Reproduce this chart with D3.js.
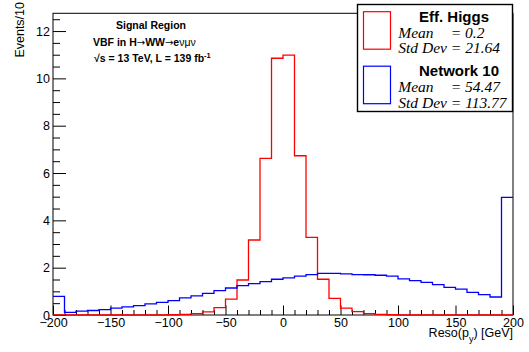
<!DOCTYPE html>
<html>
<head>
<meta charset="utf-8">
<script src="https://cdn.jsdelivr.net/npm/d3@7"></script>
<style>
  html, body { margin: 0; padding: 0; background: #fff; }
  svg { display: block; }
  text { font-family: "Liberation Sans", Arial, sans-serif; }
</style>
</head>
<body>
<svg id="chart" width="529" height="352"></svg>
<script>
// Histogram binning: 40 bins of width 10 GeV over [-200, 200]
const binLow = -200, binHigh = 200, binWidth = 10;

// Bin contents (events per 10 GeV), lowest bin first
const effHiggs = [
  0, 0, 0, 0, 0, 0, 0, 0, 0, 0,
  0.01, 0.03, 0.06, 0.13, 0.31, 0.67, 1.48, 3.17, 6.62, 10.85,
  10.98, 6.73, 3.28, 1.51, 0.70, 0.29, 0.14, 0.06, 0.03, 0.01,
  0, 0, 0, 0, 0, 0, 0, 0, 0, 0
];
const network10 = [
  0.79, 0.11, 0.16, 0.19, 0.23, 0.29, 0.34, 0.40, 0.47, 0.53,
  0.61, 0.72, 0.81, 0.91, 1.03, 1.14, 1.24, 1.33, 1.41, 1.51,
  1.57, 1.64, 1.71, 1.76, 1.76, 1.74, 1.71, 1.70, 1.68, 1.64,
  1.53, 1.45, 1.38, 1.28, 1.17, 1.09, 0.96, 0.86, 0.76, 4.97
];

// Axis ticks and labels
const xMajorTicks = [-200, -150, -100, -50, 0, 50, 100, 150, 200];
const yMajorTicks = [0, 2, 4, 6, 8, 10, 12];
const yMax = 12.75;

// Legend entries
const legendNames = ["Eff. Higgs", "Network 10"];
const legendMeans = ["0.2", "54.47"];
const legendStdDevs = ["21.64", "113.77"];
const seriesColors = ["#ff0000", "#0000ff"];

const svg = d3.select("#chart");
const frameL = 53, frameR = 513, frameT = 13.3, frameB = 315;

const x = d3.scaleLinear().domain([binLow, binHigh]).range([frameL, frameR]);
const y = d3.scaleLinear().domain([0, yMax]).range([frameB, frameT]);

// Minor tick positions derived from the major divisions
const xMinorTicks = d3.range(binLow, binHigh + 0.001, 10).filter(v => !xMajorTicks.includes(v));
const yMinorTicks = d3.range(0, yMax, 0.5).filter(v => !yMajorTicks.includes(v));

// Histogram outlines (ROOT-style step lines)
const edges = d3.range(binLow, binHigh, binWidth);
const step = d3.line()
  .x(d => x(d[0]))
  .y(d => y(d[1]))
  .curve(d3.curveStepAfter);

function stepPoints(values) {
  const pts = edges.map((e, i) => [e, values[i]]);
  pts.push([binHigh, values[values.length - 1]]);
  return pts;
}

// Frame
svg.append("rect")
  .attr("x", frameL).attr("y", frameT)
  .attr("width", frameR - frameL).attr("height", frameB - frameT)
  .attr("fill", "none").attr("stroke", "#000").attr("stroke-width", 1);

// Y axis
const yAxis = svg.append("g").attr("transform", `translate(${frameL},0)`)
  .call(d3.axisLeft(y).tickValues(yMajorTicks).tickSizeInner(-13).tickSizeOuter(0).tickPadding(3));
const yMinor = svg.append("g").attr("transform", `translate(${frameL},0)`)
  .call(d3.axisLeft(y).tickValues(yMinorTicks).tickSizeInner(-7).tickSizeOuter(0).tickFormat(""));

// X axis
const xAxis = svg.append("g").attr("transform", `translate(0,${frameB})`)
  .call(d3.axisBottom(x).tickValues(xMajorTicks).tickSizeInner(-9.5).tickSizeOuter(0).tickPadding(3.4));
const xMinor = svg.append("g").attr("transform", `translate(0,${frameB})`)
  .call(d3.axisBottom(x).tickValues(xMinorTicks).tickSizeInner(-5).tickSizeOuter(0).tickFormat(""));

[yAxis, yMinor, xAxis, xMinor].forEach(g => {
  g.select(".domain").remove();
  g.selectAll("line").attr("stroke", "#000").attr("stroke-width", 1);
  g.selectAll("text").attr("font-size", 12.5).attr("fill", "#000")
    .attr("font-family", "'Liberation Sans', Arial, sans-serif");
});

// Series
[effHiggs, network10].forEach((vals, i) => {
  svg.append("path")
    .attr("d", step(stepPoints(vals)))
    .attr("fill", "none")
    .attr("stroke", seriesColors[i])
    .attr("stroke-width", 1.3);
});

// Axis titles
svg.append("text")
  .attr("transform", "translate(24,2) rotate(-90)")
  .attr("text-anchor", "end")
  .attr("font-size", 12.5)
  .text("Events/10");

const xt = svg.append("text")
  .attr("x", frameR).attr("y", 337.3)
  .attr("text-anchor", "end")
  .attr("font-size", 12.5);
xt.append("tspan").text("Reso(p");
xt.append("tspan").attr("dy", 4.5).attr("font-size", 9).text("y");
xt.append("tspan").attr("dy", -4.5).text(") [GeV]");

// Region label
const info = svg.append("g").attr("font-weight", "bold").attr("font-size", 10.5);
info.append("text").attr("x", 151).attr("y", 29.3).attr("text-anchor", "middle").text("Signal Region");
const l2 = info.append("text").attr("x", 93).attr("y", 46);
const arrowFont = "'DejaVu Sans', sans-serif";
l2.append("tspan").text("VBF in H");
l2.append("tspan").attr("font-weight", "normal").style("font-family", arrowFont).attr("font-size", 10).text("\u2192");
l2.append("tspan").text("WW");
l2.append("tspan").attr("font-weight", "normal").style("font-family", arrowFont).attr("font-size", 10).text("\u2192");
l2.append("tspan").text("e");
l2.append("tspan").attr("font-weight", "normal").text("\u03bd\u03bc\u03bd");
const l3 = info.append("text").attr("x", 94).attr("y", 61.7);
l3.append("tspan").text("\u221as = 13 TeV, L = 139 fb");
l3.append("tspan").attr("dy", -4).attr("font-size", 7.5).text("-1");

// Legend
const leg = svg.append("g");
leg.append("rect")
  .attr("x", 357.5).attr("y", 4.5).attr("width", 155).attr("height", 107)
  .attr("fill", "#fff").attr("stroke", "#000").attr("stroke-width", 1.4);

const entryTop = [0, 54.5];
legendNames.forEach((name, i) => {
  const oy = entryTop[i];
  leg.append("rect")
    .attr("x", 363.5).attr("y", 11.7 + oy).attr("width", 27).attr("height", 37.5)
    .attr("fill", "none").attr("stroke", seriesColors[i]).attr("stroke-width", 1.2);
  leg.append("text")
    .attr("x", 419).attr("y", 21.7 + oy)
    .attr("font-weight", "bold").attr("font-size", 15)
    .text(name);
  const stat = leg.append("g")
    .attr("font-style", "italic").attr("font-size", 15.5);
  stat.append("text").attr("x", 398.3).attr("y", 37.5 + oy)
    .style("font-family", "'Liberation Serif', serif").text("Mean");
  stat.append("text").attr("x", 450.7).attr("y", 37.5 + oy)
    .style("font-family", "'Liberation Serif', serif").text("= " + legendMeans[i]);
  stat.append("text").attr("x", 398.3).attr("y", 53.3 + oy)
    .style("font-family", "'Liberation Serif', serif").text("Std Dev = " + legendStdDevs[i]);
});
</script>
</body>
</html>
